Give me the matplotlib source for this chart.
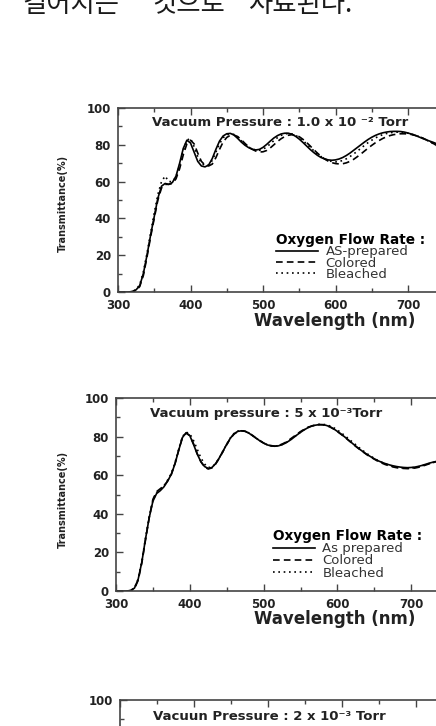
import matplotlib
matplotlib.use('Agg')
import matplotlib.pyplot as plt
from matplotlib.ticker import MultipleLocator

# ---------------- data ----------------
wavelength = list(range(300, 745, 5))  # nm, 300..740

p1_as = [0, 0, 0, 0, 0.3, 1.2, 3.5, 10, 20, 31,
         41, 51, 57.5, 59, 58.5, 59.5, 63, 70, 78, 82.5,
         81, 76, 71, 68.5, 68, 69, 72.5, 77.5, 82, 84.8,
         86, 86.2, 85.3, 83.5, 81.5, 79.8, 78.5, 77.6, 77.2, 77.5,
         78.6, 80.2, 82, 83.7, 85, 85.9, 86.3, 86.3, 85.7, 84.6,
         83.1, 81.3, 79.4, 77.5, 75.8, 74.3, 73.1, 72.3, 71.8, 71.6,
         71.8, 72.3, 73.1, 74.2, 75.5, 77, 78.5, 80, 81.5, 82.9,
         84.1, 85.1, 85.9, 86.5, 86.9, 87.2, 87.3, 87.3, 87.2, 86.9,
         86.4, 85.8, 85.1, 84.3, 83.5, 82.7, 82, 81.3, 80.5]
p1_colored = [0, 0, 0, 0, 0.2, 0.8, 3, 9, 19, 30,
              40, 50, 56.5, 58.5, 58.5, 59, 61.5, 67, 74.5, 80.5,
              82.5, 80.5, 75.5, 71, 69, 68.5, 69.5, 73, 77.5, 81.5,
              84, 85.2, 85.3, 84.5, 82.8, 80.8, 79, 77.6, 76.6, 76.1,
              76.2, 76.9, 78.3, 80, 81.8, 83.3, 84.5, 85.2, 85.5, 85.2,
              84.4, 83, 81.3, 79.4, 77.4, 75.5, 73.8, 72.3, 71.1, 70.3,
              69.8, 69.6, 69.7, 70.2, 71, 72.1, 73.5, 75, 76.6, 78.2,
              79.7, 81.1, 82.3, 83.4, 84.3, 85, 85.5, 85.8, 86, 86,
              85.9, 85.6, 85.1, 84.5, 83.7, 82.8, 81.8, 80.7, 79.5]
p1_bleached = [0, 0, 0, 0, 0.3, 1.3, 4, 11, 21, 32,
               43, 53, 60, 63, 60, 60, 62.5, 69, 77, 82.5,
               83.5, 79, 73.5, 70, 68.8, 69, 71.5, 76, 80.5, 83.8,
               85.5, 86, 85.6, 84.2, 82.2, 80.3, 78.8, 77.8, 77.1, 77,
               77.6, 78.8, 80.5, 82.3, 83.9, 85.1, 85.9, 86.2, 85.9, 85.1,
               83.9, 82.3, 80.5, 78.6, 76.8, 75.1, 73.6, 72.4, 71.5, 70.9,
               70.7, 70.9, 71.5, 72.4, 73.6, 75, 76.5, 78.1, 79.7, 81.2,
               82.5, 83.7, 84.7, 85.5, 86.1, 86.5, 86.8, 86.9, 86.9, 86.7,
               86.3, 85.8, 85.2, 84.5, 83.6, 82.7, 81.7, 80.6, 79.4]

p2_as = [0, 0, 0, 0, 0.3, 1.5, 6, 15, 27, 38,
         46.5, 50.5, 52, 54, 57, 60.5, 66, 73, 79.5, 82,
         80.5, 76, 71, 67, 64.5, 63.5, 64, 66, 69, 72.5,
         76, 79.2, 81.5, 82.7, 83, 82.7, 81.8, 80.5, 79.1, 77.8,
         76.6, 75.7, 75.2, 75, 75.2, 75.8, 76.7, 77.9, 79.3, 80.8,
         82.2, 83.5, 84.6, 85.4, 85.9, 86.2, 86.2, 85.8, 85.1, 84,
         82.7, 81.3, 79.8, 78.2, 76.6, 75, 73.5, 72.1, 70.8, 69.6,
         68.5, 67.5, 66.7, 66, 65.4, 64.9, 64.5, 64.2, 64, 63.9,
         64, 64.2, 64.6, 65.1, 65.7, 66.3, 66.8, 67.2, 67.5]
p2_colored = [0, 0, 0, 0, 0.2, 1.2, 5.5, 14.5, 26.5, 38,
              47.5, 51.5, 53, 54.5, 57, 60.5, 66, 73, 79.5, 81.8,
              80.5, 76.3, 71.2, 67, 64.2, 63.2, 63.8, 65.8, 68.8, 72.3,
              75.8, 79, 81.3, 82.6, 83, 82.8, 81.9, 80.6, 79.2, 77.9,
              76.7, 75.8, 75.3, 75.1, 75.4, 76.1, 77.1, 78.4, 79.8, 81.2,
              82.6, 83.8, 84.8, 85.5, 86, 86.2, 86.1, 85.7, 85, 83.9,
              82.6, 81.2, 79.7, 78.1, 76.5, 74.9, 73.4, 72, 70.6, 69.4,
              68.3, 67.2, 66.3, 65.5, 64.9, 64.3, 63.9, 63.6, 63.5, 63.4,
              63.5, 63.7, 64.1, 64.7, 65.3, 66, 66.6, 67.1, 67.4]
p2_bleached = [0, 0, 0, 0, 0.3, 1.6, 6.2, 15.5, 27.5, 38.5,
               47, 51, 52.5, 54.5, 57.5, 61, 66.5, 73.5, 80, 82.3,
               81.5, 78, 73.5, 69, 65.8, 64, 64.2, 66, 69, 72.5,
               76, 79.3, 81.6, 82.8, 83.1, 82.8, 81.9, 80.6, 79.2, 77.9,
               76.7, 75.8, 75.3, 75.1, 75.3, 75.9, 76.8, 78, 79.4, 80.9,
               82.3, 83.6, 84.7, 85.5, 86, 86.3, 86.4, 86.1, 85.5, 84.6,
               83.4, 82, 80.5, 78.9, 77.3, 75.7, 74.1, 72.6, 71.2, 69.9,
               68.7, 67.6, 66.7, 65.9, 65.2, 64.6, 64.2, 63.9, 63.7, 63.7,
               63.8, 64, 64.4, 64.9, 65.5, 66.1, 66.6, 67, 67.3]

labels1 = ["AS-prepared", "Colored", "Bleached"]
labels2 = ["As prepared", "Colored", "Bleached"]
titles = ["Vacuum Pressure : 1.0 x 10 \u207b\u00b2 Torr",
          "Vacuum pressure : 5 x 10\u207b\u00b3Torr",
          "Vacuun Pressure : 2 x 10\u207b\u00b3 Torr"]
legend_title = "Oxygen Flow Rate :"
xlabel = "Wavelength (nm)"
ylabel = "Transmittance(%)"
korean_words = ["길어지는", "것으로", "사료된다."]

# ---------------- figure ----------------
W, H = 436, 726
fig = plt.figure(figsize=(W / 100, H / 100), dpi=100)
fig.patch.set_facecolor('white')

for word, xpx in zip(korean_words, [22, 152, 248]):
    fig.text(xpx / W, 1 - 4 / H, word, family=['Noto Sans CJK KR', 'DejaVu Sans'],
             fontsize=19, color='#1a1a1a', ha='left', va='center')

styles = [dict(ls='-', lw=1.2), dict(ls=(0, (4, 2.5)), lw=1.2), dict(ls=(0, (1, 2.2)), lw=1.2)]
spine_col = '#444444'


def make_axes(rect):
    ax = fig.add_axes(rect)
    ax.set_xlim(300, 800)
    ax.set_ylim(0, 100)
    for s in ax.spines.values():
        s.set_color(spine_col)
        s.set_linewidth(1.2)
    ax.xaxis.set_major_locator(MultipleLocator(100))
    ax.xaxis.set_minor_locator(MultipleLocator(50))
    ax.yaxis.set_major_locator(MultipleLocator(20))
    ax.yaxis.set_minor_locator(MultipleLocator(10))
    ax.tick_params(which='both', direction='in', top=True, right=True, color=spine_col, width=1.0)
    ax.tick_params(which='major', length=5, pad=5, labelsize=8.5)
    ax.tick_params(which='minor', length=3)
    for lab in ax.get_xticklabels() + ax.get_yticklabels():
        lab.set_fontweight('bold')
        lab.set_color('#222222')
    return ax


def draw(ax, series, labels, title, title_xy, leg_xy, xl_xy, yl_xy, lspace):
    for y, lab, st in zip(series, labels, styles):
        ax.plot(wavelength, y, color='black', label=lab, **st)
    ax.text(title_xy[0], title_xy[1], title, fontsize=9.5, fontweight='bold',
            color='#222222', ha='left', va='center', transform=fig.transFigure)
    leg = ax.legend(loc='upper left', bbox_to_anchor=leg_xy, bbox_transform=fig.transFigure,
                    frameon=False, fontsize=9.5, title=legend_title,
                    title_fontproperties={'weight': 'bold', 'size': 9.8},
                    alignment='left', handlelength=3.2, handletextpad=0.55,
                    labelspacing=lspace, borderpad=0, borderaxespad=0)
    for t in leg.get_texts():
        t.set_color('#333333')
    ax.set_xlabel(xlabel, fontsize=12, fontweight='bold', color='#222222')
    ax.xaxis.set_label_coords(*xl_xy)
    ax.text(yl_xy[0], yl_xy[1], ylabel, rotation=90, fontsize=7, fontweight='bold',
            ha='center', va='center', transform=ax.transAxes, color='#222222')


ax1 = make_axes([118 / W, 1 - 292 / H, 362.5 / W, 184 / H])
draw(ax1, [p1_as, p1_colored, p1_bleached], labels1, titles[0],
     (152 / W, 1 - 122 / H), (276 / W, 1 - 233 / H), (0.599, -0.11), (-0.152, 0.484), -0.13)

ax2 = make_axes([116 / W, 1 - 591 / H, 369 / W, 193 / H])
draw(ax2, [p2_as, p2_colored, p2_bleached], labels2, titles[1],
     (150 / W, 1 - 413 / H), (273 / W, 1 - 529 / H), (0.593, -0.10), (-0.1436, 0.473), -0.06)

ax3 = make_axes([120 / W, 1 - 893 / H, 370 / W, 193 / H])
ax3.tick_params(axis='x', labelbottom=False)
ax3.text(153 / W, 1 - 716 / H, titles[2], fontsize=9.5, fontweight='bold',
         color='#222222', ha='left', va='center', transform=fig.transFigure)

fig.savefig('out.png', dpi=100, facecolor='white')
